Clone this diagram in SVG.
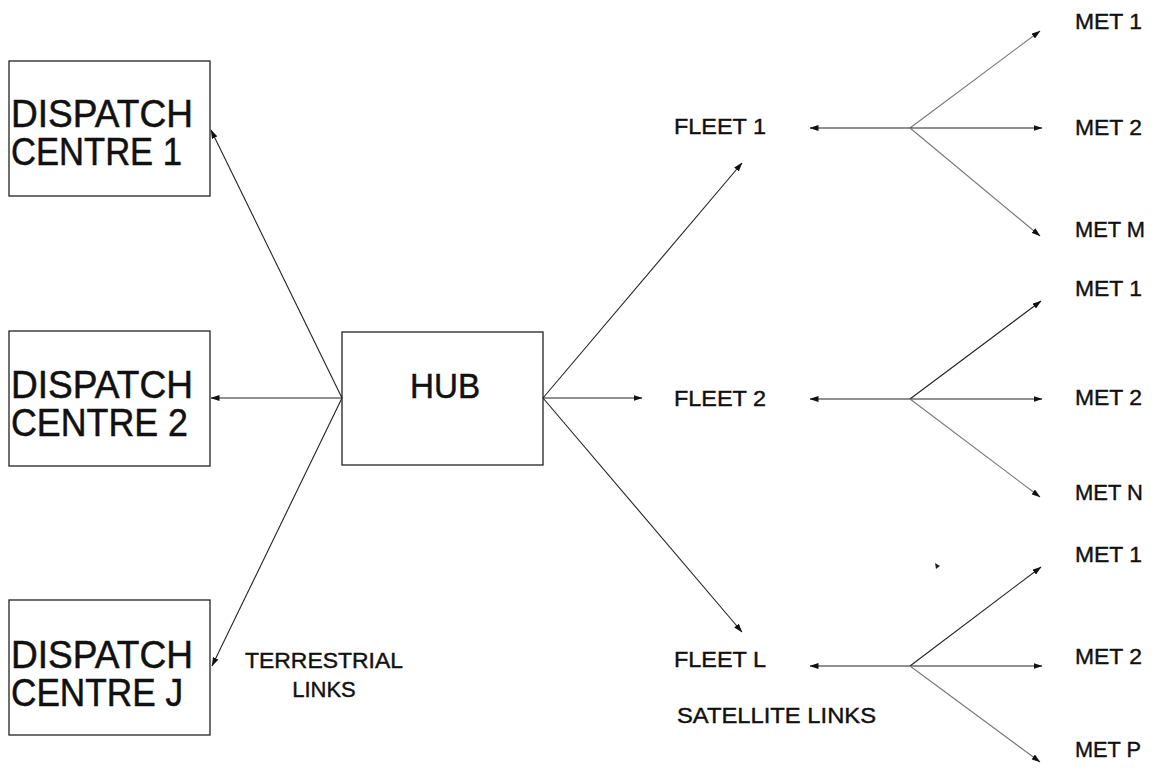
<svg xmlns="http://www.w3.org/2000/svg" width="1157" height="769" viewBox="0 0 1157 769">
<defs>
<marker id="ah" viewBox="0 0 9 6" refX="8.5" refY="3" markerWidth="9" markerHeight="6" markerUnits="userSpaceOnUse" orient="auto">
<path d="M0,0 L9,3 L0,6 z" fill="#111"/>
</marker>
</defs>
<style>
.box{fill:#fff;stroke:#222;stroke-width:1.3}
.big{font-family:"Liberation Sans",Arial,Helvetica,sans-serif;font-size:38px;fill:#111;stroke:#111;stroke-width:0.5}
.lbl{font-family:"Liberation Sans",Arial,Helvetica,sans-serif;font-size:22px;fill:#111;stroke:#111;stroke-width:0.4}
.ln{fill:none;stroke:#222;stroke-width:1.1;marker-end:url(#ah)}
.lt{fill:none;stroke:#777;stroke-width:1.1;marker-end:url(#ah)}
</style>
<rect width="1157" height="769" fill="#fff"/>

<g id="dispatch1">
<rect class="box" x="9" y="61" width="201" height="135"/>
<text class="big" x="11" y="127" textLength="182" lengthAdjust="spacingAndGlyphs">DISPATCH</text>
<text class="big" x="11" y="165" textLength="171" lengthAdjust="spacingAndGlyphs">CENTRE 1</text>
</g>
<g id="dispatch2">
<rect class="box" x="9" y="331" width="201" height="135"/>
<text class="big" x="11" y="398" textLength="182" lengthAdjust="spacingAndGlyphs">DISPATCH</text>
<text class="big" x="11" y="436" textLength="177" lengthAdjust="spacingAndGlyphs">CENTRE 2</text>
</g>
<g id="dispatchJ">
<rect class="box" x="9" y="600" width="201" height="135"/>
<text class="big" x="11" y="668" textLength="182" lengthAdjust="spacingAndGlyphs">DISPATCH</text>
<text class="big" x="11" y="706" textLength="172" lengthAdjust="spacingAndGlyphs">CENTRE J</text>
</g>
<g id="hub">
<rect class="box" x="342" y="332" width="201" height="133"/>
<text class="big" x="445" y="398" text-anchor="middle" style="font-size:35px" textLength="70" lengthAdjust="spacingAndGlyphs">HUB</text>
</g>

<g id="fleet1"><text class="lbl" x="674" y="134" textLength="92" lengthAdjust="spacingAndGlyphs">FLEET 1</text></g>
<g id="fleet2"><text class="lbl" x="674" y="406" textLength="92" lengthAdjust="spacingAndGlyphs">FLEET 2</text></g>
<g id="fleetL"><text class="lbl" x="674" y="667" textLength="92" lengthAdjust="spacingAndGlyphs">FLEET L</text></g>

<g id="met1-1"><text class="lbl" x="1075" y="29" textLength="67" lengthAdjust="spacingAndGlyphs">MET 1</text></g>
<g id="met1-2"><text class="lbl" x="1075" y="135" textLength="67" lengthAdjust="spacingAndGlyphs">MET 2</text></g>
<g id="met1-M"><text class="lbl" x="1075" y="237" textLength="70" lengthAdjust="spacingAndGlyphs">MET M</text></g>
<g id="met2-1"><text class="lbl" x="1075" y="296" textLength="67" lengthAdjust="spacingAndGlyphs">MET 1</text></g>
<g id="met2-2"><text class="lbl" x="1075" y="405" textLength="67" lengthAdjust="spacingAndGlyphs">MET 2</text></g>
<g id="met2-N"><text class="lbl" x="1075" y="500" textLength="68" lengthAdjust="spacingAndGlyphs">MET N</text></g>
<g id="met3-1"><text class="lbl" x="1075" y="562" textLength="67" lengthAdjust="spacingAndGlyphs">MET 1</text></g>
<g id="met3-2"><text class="lbl" x="1075" y="664" textLength="67" lengthAdjust="spacingAndGlyphs">MET 2</text></g>
<g id="met3-P"><text class="lbl" x="1075" y="757" textLength="66" lengthAdjust="spacingAndGlyphs">MET P</text></g>

<g id="labels">
<text class="lbl" x="324" y="668" text-anchor="middle" textLength="158" lengthAdjust="spacingAndGlyphs">TERRESTRIAL</text>
<text class="lbl" x="324" y="697" text-anchor="middle">LINKS</text>
<text class="lbl" x="677" y="723" textLength="199" lengthAdjust="spacingAndGlyphs">SATELLITE LINKS</text>
</g>

<g id="connectors">
<line class="ln" x1="342" y1="398" x2="211" y2="130"/>
<line class="ln" x1="342" y1="398" x2="211" y2="398"/>
<line class="ln" x1="342" y1="398" x2="212" y2="666"/>
<line class="ln" x1="543" y1="398" x2="742" y2="163"/>
<line class="ln" x1="543" y1="398" x2="642" y2="398"/>
<line class="ln" x1="543" y1="398" x2="742" y2="632"/>

<line class="ln" x1="910" y1="128" x2="810" y2="128"/>
<line class="lt" x1="910" y1="128" x2="1040" y2="31"/>
<line class="ln" x1="910" y1="128" x2="1042" y2="128"/>
<line class="lt" x1="910" y1="128" x2="1040" y2="236"/>

<line class="ln" x1="910" y1="399" x2="810" y2="399"/>
<line class="ln" x1="910" y1="399" x2="1041" y2="301"/>
<line class="ln" x1="910" y1="399" x2="1042" y2="399"/>
<line class="lt" x1="910" y1="399" x2="1040" y2="497"/>

<line class="ln" x1="910" y1="666" x2="810" y2="666"/>
<line class="ln" x1="910" y1="666" x2="1041" y2="567"/>
<line class="ln" x1="910" y1="666" x2="1042" y2="666"/>
<line class="lt" x1="910" y1="666" x2="1040" y2="762"/>

<path d="M935,563 L940,566 L936,569 z" fill="#222"/>
</g>
</svg>
